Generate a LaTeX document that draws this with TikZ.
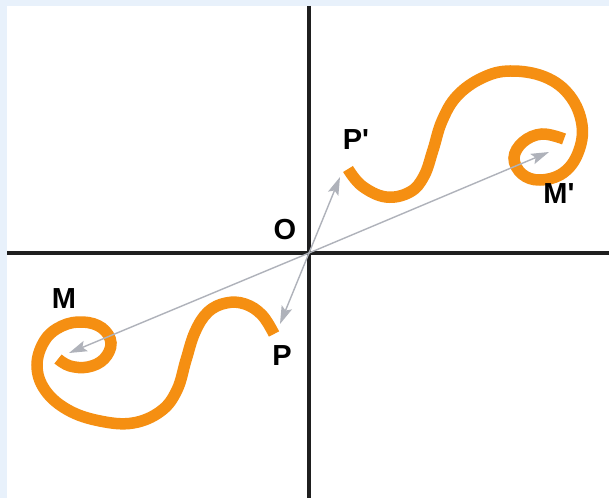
\documentclass[tikz,border=0pt]{standalone}
\usepackage{fontspec}
\newfontfamily\labfont{Liberation Sans}[Ligatures=TeXOff]
\usetikzlibrary{arrows.meta}
\definecolor{bgblue}{RGB}{232,241,251}
\definecolor{orangec}{RGB}{245,143,18}
\definecolor{grayc}{RGB}{175,178,186}
\tikzset{
  axisline/.style={line width=4bp, draw=black!88},
  spiral/.style={draw=orangec, line width=11.5bp, line cap=butt},
  vec/.style={draw=grayc, line width=1.4bp, -{Stealth[length=18bp,width=11bp,inset=3.5bp]}},
  lab/.style={font=\labfont\bfseries\fontsize{29bp}{31bp}\selectfont, inner sep=0pt}
}
\begin{document}
\begin{tikzpicture}[x=1bp,y=-1bp]
\useasboundingbox (0,0) rectangle (609,498);
\fill[bgblue] (0,0) rectangle (609,498);
\fill[white] (7,6) rectangle (609,498);
% axes
\coordinate (O) at (309,253);
\draw[axisline] (309,6) -- (309,498);
\draw[axisline] (7,253) -- (609,253);
% upper curve P' -> M'
\draw[spiral] plot[smooth, tension=0.65] coordinates {
 (348,169) (362,186) (386,197) (410,192) (424,176) (433,150) (442,121)
 (457,96) (482,78) (510,71) (545,77) (570,96) (582,125) (578,153)
 (563,173) (540,180) (522,174) (514,158) (523,142) (542,134) (564,139)};
% lower curve P -> M
\draw[spiral] plot[smooth, tension=0.65] coordinates {
 (274,334) (262,315) (245,304) (226,303) (208,312) (195,332) (186,360)
 (177,390) (161,411) (133,423) (100,421) (68,410) (45,390) (37,365)
 (45,340) (62,326) (83,322) (102,328) (111,343) (104,359) (88,367)
 (70,366) (58,359)};
% arrow tips
\coordinate (tPp) at (340,177);
\coordinate (tP) at (280,324);
\coordinate (tMp) at (549,152);
\coordinate (tM) at (69,353);
\draw[vec] (O) -- (tPp);
\draw[vec] (O) -- (tP);
\draw[vec] (O) -- (tMp);
\draw[vec] (O) -- (tM);
% labels
\node[lab] (lO) at (285,230) {O};
\node[lab] (lPp) at (356,140) {P'};
\node[lab] (lP) at (282,356) {P};
\node[lab] (lM) at (64,299) {M};
\node[lab] (lMp) at (559,194) {M'};
\end{tikzpicture}
\end{document}
